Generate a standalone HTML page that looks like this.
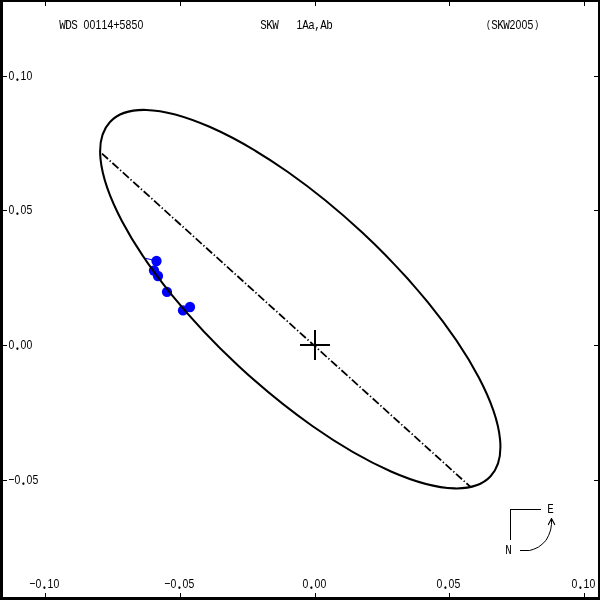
<!DOCTYPE html>
<html lang="en">
<head>
<meta charset="utf-8">
<title>WDS 00114+5850 SKW 1Aa,Ab (SKW2005)</title>
<style>
html,body{margin:0;padding:0;background:#fff;}
body{width:600px;height:600px;overflow:hidden;}
svg{display:block;}
text{white-space:pre;font-family:"Liberation Mono",monospace;font-size:13.65px;fill:#000;}
tspan.d{font-family:"Liberation Sans",sans-serif;font-size:13.1px;}
tspan.q{font-size:10.7px;}
tspan.p{font-family:"Liberation Serif",serif;font-size:24px;}
tspan.m{font-family:"DejaVu Sans","Liberation Sans",sans-serif;font-weight:200;font-size:23.75px;}
</style>
</head>
<body>
<svg width="600" height="600" viewBox="0 0 600 600">
<rect x="0" y="0" width="600" height="600" fill="#fff"/>
<!-- observations -->
<g stroke="#0000ff" stroke-width="1.1" fill="none">
<line x1="156.5" y1="261" x2="145.5" y2="258.2"/>
</g>
<g fill="#0000ff" stroke="none">
<circle cx="156.5" cy="261" r="5.15"/>
<circle cx="154" cy="270.5" r="5.15"/>
<circle cx="158" cy="276" r="5.15"/>
<circle cx="167" cy="291.9" r="5.15"/>
<circle cx="183" cy="310.4" r="5.15"/>
<circle cx="190" cy="307" r="5.15"/>
</g>
<!-- orbit -->
<ellipse cx="300.28" cy="299.14" rx="260" ry="91" transform="rotate(42.95 300.28 299.14)" fill="none" stroke="#000" stroke-width="2.05"/>
<!-- line of nodes -->
<line x1="102" y1="153.6" x2="470.8" y2="487.2" stroke="#000" stroke-width="1.8" stroke-dasharray="8.1 2.3 1.34 2.3"/>
<!-- primary -->
<g fill="#000" shape-rendering="crispEdges">
<rect x="314" y="330" width="2" height="30"/>
<rect x="300" y="344" width="30" height="2"/>
</g>
<!-- frame -->
<g fill="#000" shape-rendering="crispEdges">
<rect x="0" y="0" width="600" height="2"/>
<rect x="0" y="597" width="600" height="3"/>
<rect x="0" y="0" width="3" height="600"/>
<rect x="598" y="0" width="2" height="600"/>
<rect x="45" y="2" width="1" height="4"/>
<rect x="45" y="593" width="1" height="4"/>
<rect x="180" y="2" width="1" height="4"/>
<rect x="180" y="593" width="1" height="4"/>
<rect x="315" y="2" width="1" height="4"/>
<rect x="315" y="593" width="1" height="4"/>
<rect x="449" y="2" width="1" height="4"/>
<rect x="449" y="593" width="1" height="4"/>
<rect x="584" y="2" width="1" height="4"/>
<rect x="584" y="593" width="1" height="4"/>
<rect x="3" y="76" width="4" height="1"/>
<rect x="594" y="76" width="4" height="1"/>
<rect x="3" y="210" width="4" height="1"/>
<rect x="594" y="210" width="4" height="1"/>
<rect x="3" y="345" width="4" height="1"/>
<rect x="594" y="345" width="4" height="1"/>
<rect x="3" y="480" width="4" height="1"/>
<rect x="594" y="480" width="4" height="1"/>
</g>
<!-- compass -->
<g fill="none" stroke="#000" stroke-width="1">
<path d="M540.5 509.5H510.5V539.5" shape-rendering="crispEdges"/>
<path d="M520 550.5H529.6L533.8 549.2L538.3 547.2L542 544.3L546 540.4L548.7 535.3L550.6 530L551.5 524.5V518.5" stroke-width="1" stroke-linejoin="round"/>
<path d="M548.4 524.6L551.5 518.6L554.7 524.6" stroke-width="1.15" stroke-linejoin="round" stroke-linecap="round"/>
</g>
<!-- labels -->
<g>
<text transform="translate(60 29) scale(0.8 1)" x="-0.97 6.53 14.03 21.53 29.48 36.98 44.48 51.98 59.48 66.53 74.48 81.98 89.48 96.98" xml:space="preserve">WDS <tspan class="d">00114</tspan>+<tspan class="d">5850</tspan></text>
<text transform="translate(261 29) scale(0.8 1)" x="-0.97 6.53 14.03 21.53 29.03 36.53 44.48 51.53 59.03 66.53 74.03 81.53" xml:space="preserve">SKW   <tspan class="d">1</tspan>Aa,Ab</text>
<text transform="translate(486 29) scale(0.8 1)" x="-0.1 6.53 14.03 21.53 29.48 36.98 44.48 51.98 59.9" dy="-1.25 1.25 0 0 0 0 0 0 -1.25" xml:space="preserve"><tspan class="q">(</tspan>SKW<tspan class="d">2005</tspan><tspan class="q">)</tspan></text>
<text transform="translate(9 80) scale(0.8 1)" x="-0.52 7.62 14.48 21.98" dy="0 0.6 -0.6 0" xml:space="preserve"><tspan class="d">0</tspan><tspan class="p">.</tspan><tspan class="d">10</tspan></text>
<text transform="translate(9 214) scale(0.8 1)" x="-0.52 7.62 14.48 21.98" dy="0 0.6 -0.6 0" xml:space="preserve"><tspan class="d">0</tspan><tspan class="p">.</tspan><tspan class="d">05</tspan></text>
<text transform="translate(9 349) scale(0.8 1)" x="-0.52 7.62 14.48 21.98" dy="0 0.6 -0.6 0" xml:space="preserve"><tspan class="d">0</tspan><tspan class="p">.</tspan><tspan class="d">00</tspan></text>
<text transform="translate(9 484) scale(0.8 1)" x="-1.16 6.98 15.12 21.98 29.48" dy="2 -2 0.6 -0.6 0" xml:space="preserve"><tspan class="m">-</tspan><tspan class="d">0</tspan><tspan class="p">.</tspan><tspan class="d">05</tspan></text>
<text transform="translate(30 588) scale(0.8 1)" x="-1.16 6.98 15.12 21.98 29.48" dy="2 -2 0.6 -0.6 0" xml:space="preserve"><tspan class="m">-</tspan><tspan class="d">0</tspan><tspan class="p">.</tspan><tspan class="d">10</tspan></text>
<text transform="translate(165 588) scale(0.8 1)" x="-1.16 6.98 15.12 21.98 29.48" dy="2 -2 0.6 -0.6 0" xml:space="preserve"><tspan class="m">-</tspan><tspan class="d">0</tspan><tspan class="p">.</tspan><tspan class="d">05</tspan></text>
<text transform="translate(303 588) scale(0.8 1)" x="-0.52 7.62 14.48 21.98" dy="0 0.6 -0.6 0" xml:space="preserve"><tspan class="d">0</tspan><tspan class="p">.</tspan><tspan class="d">00</tspan></text>
<text transform="translate(437 588) scale(0.8 1)" x="-0.52 7.62 14.48 21.98" dy="0 0.6 -0.6 0" xml:space="preserve"><tspan class="d">0</tspan><tspan class="p">.</tspan><tspan class="d">05</tspan></text>
<text transform="translate(572 588) scale(0.8 1)" x="-0.52 7.62 14.48 21.98" dy="0 0.6 -0.6 0" xml:space="preserve"><tspan class="d">0</tspan><tspan class="p">.</tspan><tspan class="d">10</tspan></text>
<text transform="translate(548 513) scale(0.8 1)" x="-0.97" xml:space="preserve">E</text>
<text transform="translate(506 554) scale(0.8 1)" x="-0.97" xml:space="preserve">N</text>
</g>
</svg>
</body>
</html>
